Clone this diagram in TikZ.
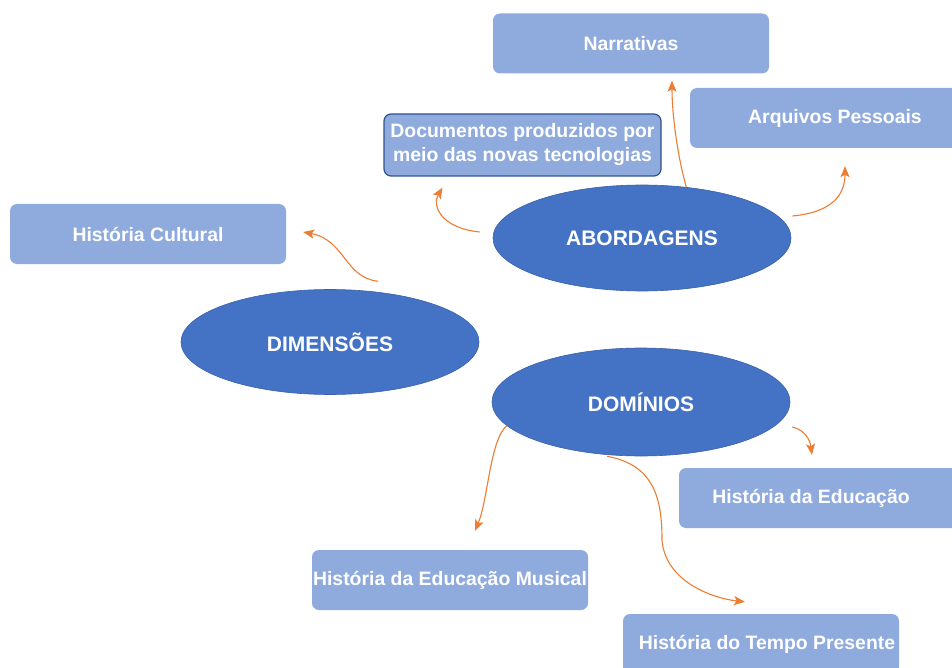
\documentclass[tikz,border=0pt]{standalone}
\usepackage{fontspec}
\setmainfont{Liberation Sans}
\usetikzlibrary{arrows.meta,shapes.geometric}
\definecolor{ellblue}{HTML}{4472C4}
\definecolor{boxblue}{HTML}{8FAADC}
\definecolor{arrorange}{HTML}{ED7D31}
\definecolor{docborder}{HTML}{2F528F}
\begin{document}
\begin{tikzpicture}[x=1pt,y=-1pt,
 hub/.style={ellipse, fill=ellblue, draw=ellblue!85!black, line width=0.6pt, minimum width=298pt, minimum height=106pt, inner sep=0pt, text=white, font=\fontsize{21}{25}\selectfont\bfseries},
 leaf/.style={rectangle, rounded corners=7pt, fill=boxblue, minimum width=276pt, minimum height=60pt, inner sep=0pt, text=white, font=\fontsize{19.4}{24}\selectfont\bfseries},
 link/.style={draw=arrorange, line width=1.1pt, -{Stealth[length=11pt,width=9pt,inset=2.5pt]}}]
\useasboundingbox (0,0) rectangle (952,668);
\fill[white] (0,0) rectangle (952,668);

% leaves
\node[leaf] (narr) at (631,43.5) {Narrativas};
\node[leaf, minimum width=310pt] (arq) at (845,118) {\makebox[290pt]{Arquivos Pessoais}\kern20pt};
\node[leaf, minimum width=277pt, minimum height=62pt, draw=docborder, line width=1.2pt, align=center] (doc) at (522.5,145) {Documentos produzidos por\\meio das novas tecnologias};
\node[leaf] (hc) at (148,234) {História Cultural};
\node[leaf, minimum width=290pt] (he) at (824,498) {\makebox[264pt]{História da Educação}\kern26pt};
\node[leaf] (hem) at (450,580) {História da Educação Musical};
\node[leaf] (htp) at (761,644) {\hspace{12pt}História do Tempo Presente};

% hubs
\node[hub] (abord) at (642,238) {ABORDAGENS};
\node[hub, minimum height=105pt] (dimens) at (330,342) {DIMENSÕES};
\node[hub, minimum height=108pt] (dom) at (641,402) {DOMÍNIOS};

% connectors
\draw[link] (abord.49) .. controls (676,150) and (672,110) .. ([shift={(41,7)}]narr.south);
\draw[link] ([shift={(-13,-6)}]abord.west) .. controls (440,228) and (432,205) .. ([shift={(-80,11)}]doc.south);
\draw[link] ([shift={(1,-22)}]abord.east) .. controls (825,213) and (845,200) .. ([shift={(0,18)}]arq.south);
\draw[link] ([shift={(48,-8)}]dimens.north) .. controls (345,278) and (345,240) .. ([shift={(17,-2)}]hc.east);
\draw[link] (dom.190) .. controls (490,440) and (488,500) .. ([shift={(25,-19)}]hem.north);
\draw[link] ([shift={(-34,0)}]dom.south) .. controls (655,465) and (662,500) .. (662,540) .. controls (665,580) and (710,598) .. ([shift={(-16,-12)}]htp.north);
\draw[link] ([shift={(2,25)}]dom.east) .. controls (805,430) and (810,440) .. ([shift={(-12,-13)}]he.north);
\end{tikzpicture}
\end{document}
